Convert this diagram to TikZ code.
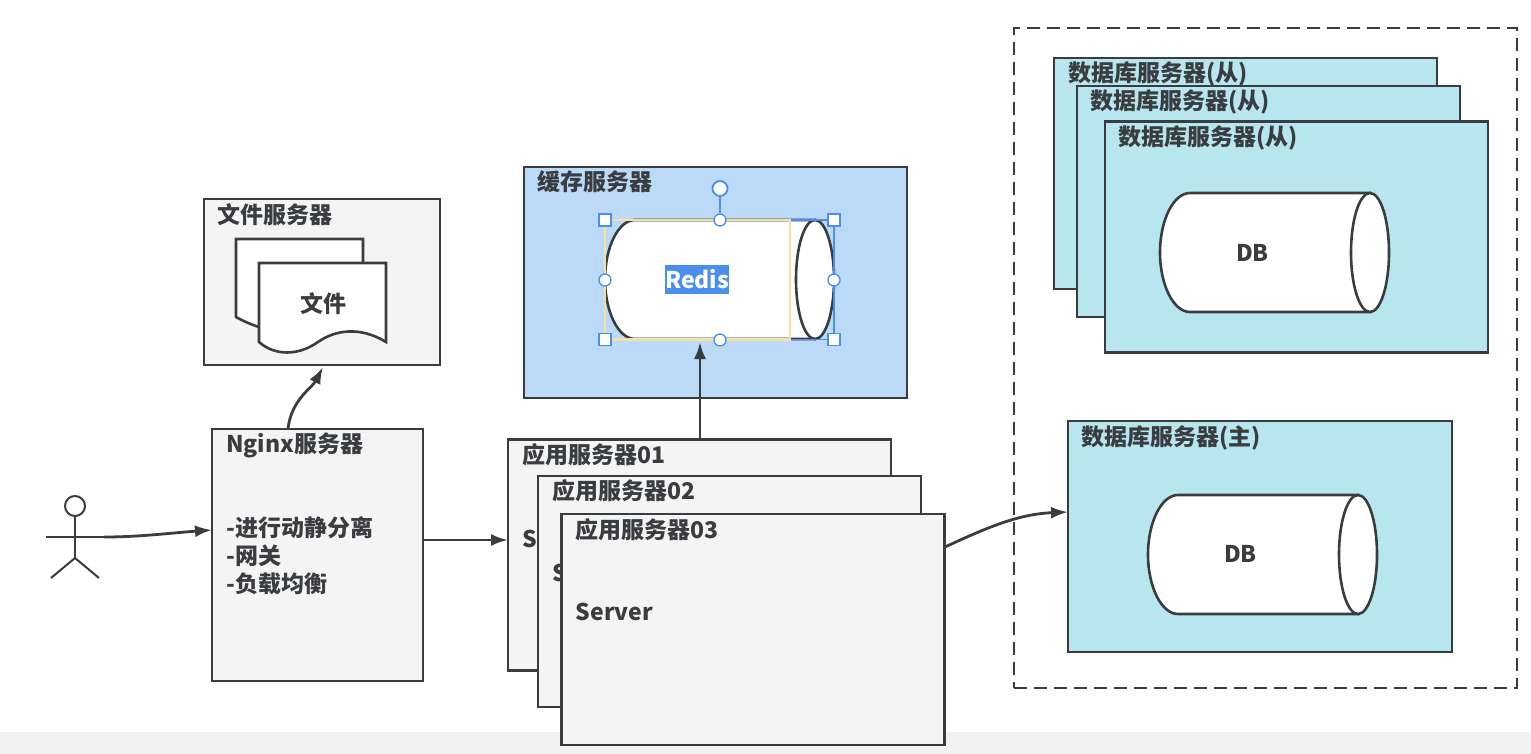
\documentclass[tikz,border=0pt]{standalone}
\usepackage{fontspec}
\setmainfont{Noto Sans CJK SC}
\usepackage{tikz}
\usetikzlibrary{arrows.meta,calc}
\definecolor{inkgray}{HTML}{3A3D40}
\definecolor{boxgray}{HTML}{F4F4F4}
\definecolor{boxcyan}{HTML}{B8E6EE}
\definecolor{boxblue}{HTML}{BBDAF8}
\definecolor{handleblue}{HTML}{4A8FEF}
\definecolor{handleyellow}{HTML}{F5DFA8}
\definecolor{striplight}{HTML}{F2F2F2}
\tikzstyle{ptlabel} = [anchor=west, inner sep=0pt, text=inkgray, align=left, font={\fontsize{23}{28}\selectfont\bfseries}]
\tikzstyle{srvbox} = [draw=inkgray, line width=2.8pt, fill=boxgray, inner sep=0pt, outer sep=0pt]
\tikzstyle{dbbox} = [srvbox, fill=boxcyan, minimum width=383pt, minimum height=231pt]
\tikzstyle{appbox} = [srvbox, minimum width=383pt, minimum height=231pt]
\tikzstyle{cyl} = [draw=inkgray, line width=2.6pt, fill=white]
\tikzstyle{conn} = [draw=inkgray, line width=2.8pt, -{Latex[length=17pt,width=12pt]}]
\tikzstyle{squarehandle} = [draw=handleblue, fill=white, line width=1.3pt, minimum size=12pt, inner sep=0pt]
\tikzstyle{roundhandle} = [circle, draw=handleblue, fill=white, line width=1.3pt, minimum size=12pt, inner sep=0pt]

\begin{document}
\begin{tikzpicture}[x=1pt, y=-1pt]
  \useasboundingbox (0,0) rectangle (1531,754);
  \fill[striplight] (0,732) rectangle (1531,754);

  % user
  \node[at={(75,506)}, circle, draw=inkgray, line width=2pt, minimum size=20pt, inner sep=0pt] (userhead) {};
  \coordinate (userhip) at (75,558);
  \coordinate (userhandl) at (46,537);
  \coordinate (userhandr) at (104,537);
  \coordinate (userfootl) at (51,578);
  \coordinate (userfootr) at (99,578);
  \draw[inkgray, line width=2pt] (userhead.south) -- (userhip);
  \draw[inkgray, line width=2pt] (userhandl) -- (userhandr);
  \draw[inkgray, line width=2pt] (userfootl) -- (userhip) -- (userfootr);

  % file server
  \node[at={(322,282)}, srvbox, minimum width=236pt, minimum height=166pt] (filesrv) {};
  \node[at={(217.5,215)}, ptlabel] (filetitle) {文件服务器};
  \filldraw[draw=inkgray, line width=2.6pt, fill=white] (236,239) -- (363,239) -- (363,300) -- (259,327) .. controls (250,324) and (243,321) .. (236,317) -- cycle;
  \filldraw[draw=inkgray, line width=2.6pt, fill=white] (259,263) -- (386,263) -- (386,342) .. controls (360,326) and (335,330) .. (318,342) .. controls (298,356) and (275,356) .. (259,342) -- cycle;
  \node[at={(300,304)}, ptlabel] (filetext) {文件};

  % nginx
  \node[at={(317.5,555)}, srvbox, minimum width=211pt, minimum height=252pt] (nginx) {};
  \node[at={(226,445)}, ptlabel] (nginxtitle) {Nginx服务器};
  \node[at={(226.5,556)}, ptlabel] (nginxtext) {-进行动静分离\\-网关\\-负载均衡};

  % cache server
  \node[at={(715.5,282.5)}, srvbox, fill=boxblue, minimum width=383pt, minimum height=231pt] (cachesrv) {};
  \node[at={(537,182)}, ptlabel] (cachetitle) {缓存服务器};
  \begin{scope}[shift={(605,220)}]
    \filldraw[cyl] (30,0) -- (210,0) -- (210,119) -- (30,119) .. controls (13.5,119) and (0,92) .. (0,59.5) .. controls (0,27) and (13.5,0) .. (30,0) -- cycle;
    \filldraw[cyl] (210,59.5) ellipse [x radius=19, y radius=59.5];
  \end{scope}
  \draw[handleblue, line width=1.8pt] (605,220) rectangle (834,339.5);
  \draw[handleyellow, line width=2.2pt] (605,220) rectangle (790,339.5);
  \node[at={(697,279.5)}, fill=handleblue, text=white, inner sep=0pt, minimum width=58pt, minimum height=29pt, font={\fontsize{23}{28}\selectfont\bfseries}] (redis) {Redis};
  \node[at={(720,188.5)}, roundhandle, minimum size=15pt, line width=1.8pt] (rotknob) {};
  \node[at={(720,220)}, roundhandle] (knobn) {};
  \node[at={(720,340)}, roundhandle] (knobs) {};
  \node[at={(605,280)}, roundhandle] (knobw) {};
  \node[at={(834,280)}, roundhandle] (knobe) {};
  \node[at={(605,220)}, squarehandle] (knobnw) {};
  \node[at={(834,220)}, squarehandle] (knobne) {};
  \node[at={(605,339.5)}, squarehandle] (knobsw) {};
  \node[at={(834,339.5)}, squarehandle] (knobse) {};
  \draw[handleblue, line width=1.8pt] (rotknob) -- (knobn);

  % application servers
  \node[at={(699.5,555)}, appbox] (app1) {};
  \node[at={(522.5,455)}, ptlabel] (app1title) {应用服务器01};
  \node[at={(522.5,539)}, ptlabel] (app1text) {Server};
  \node[at={(729.5,591.5)}, appbox] (app2) {};
  \node[at={(552.5,491)}, ptlabel] (app2title) {应用服务器02};
  \node[at={(552.5,573)}, ptlabel] (app2text) {Server};
  \node[at={(753,629.5)}, appbox] (app3) {};
  \node[at={(575.5,530)}, ptlabel] (app3title) {应用服务器03};
  \node[at={(575.5,612)}, ptlabel] (app3text) {Server};

  % database cluster
  \node[at={(1265.5,358)}, draw=inkgray, line width=2.8pt, dash pattern=on 13pt off 7pt, minimum width=503pt, minimum height=660pt, inner sep=0pt] (dbgroup) {};

  \node[at={(1245.5,173.5)}, dbbox] (slave1) {};
  \node[at={(1068,74)}, ptlabel] (slave1title) {数据库服务器(从)};
  \node[at={(1268.5,201.5)}, dbbox] (slave2) {};
  \node[at={(1090.5,102)}, ptlabel] (slave2title) {数据库服务器(从)};
  \node[at={(1296.5,237)}, dbbox] (slave3) {};
  \node[at={(1118.5,138)}, ptlabel] (slave3title) {数据库服务器(从)};
  \begin{scope}[shift={(1160,193)}]
    \filldraw[cyl] (30,0) -- (210,0) -- (210,119) -- (30,119) .. controls (13.5,119) and (0,92) .. (0,59.5) .. controls (0,27) and (13.5,0) .. (30,0) -- cycle;
    \filldraw[cyl] (210,59.5) ellipse [x radius=19, y radius=59.5];
  \end{scope}
  \node[at={(1236,253)}, ptlabel] (slave3db) {DB};

  \node[at={(1260,536.5)}, dbbox, minimum width=384pt] (master) {};
  \node[at={(1081.5,438)}, ptlabel] (mastertitle) {数据库服务器(主)};
  \begin{scope}[shift={(1148,495)}]
    \filldraw[cyl] (30,0) -- (210,0) -- (210,119) -- (30,119) .. controls (13.5,119) and (0,92) .. (0,59.5) .. controls (0,27) and (13.5,0) .. (30,0) -- cycle;
    \filldraw[cyl] (210,59.5) ellipse [x radius=19, y radius=59.5];
  \end{scope}
  \node[at={(1224,554)}, ptlabel] (masterdb) {DB};

  % connectors
  \coordinate (nginxin) at (212,530);
  \coordinate (nginxtop) at (288,429);
  \coordinate (filein) at (323,367);
  \coordinate (nginxout) at (423,540);
  \coordinate (redisin) at (700,342);
  \coordinate (app3out) at (945,547);
  \coordinate (masterin) at (1068,512);
  \draw[conn] (userhandr) .. controls (140,537) and (170,533) .. (nginxin);
  \draw[conn] (nginxtop) .. controls (291,400) and (312,388) .. (filein);
  \draw[conn] (nginxout) -- (nginxout -| app1.west);
  \draw[conn] (redisin |- app1.north) -- (redisin);
  \draw[conn] (app3out) .. controls (990,526) and (1020,514) .. (masterin);
\end{tikzpicture}
\end{document}
